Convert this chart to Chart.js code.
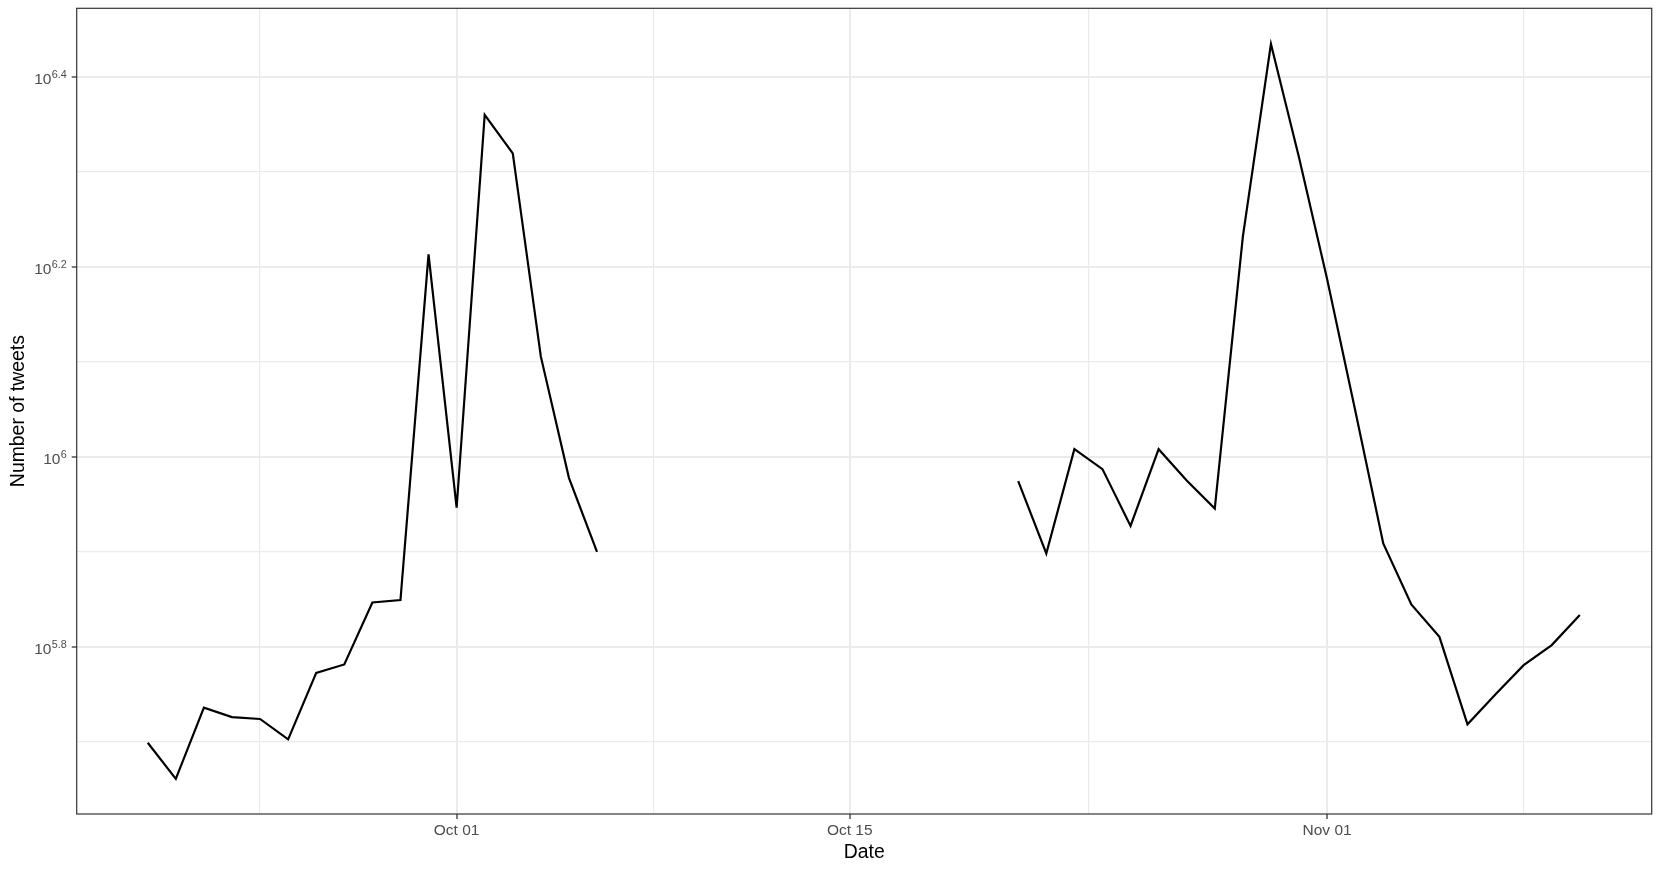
<!DOCTYPE html>
<html>
<head>
<meta charset="utf-8">
<script src="https://cdn.jsdelivr.net/npm/chart.js@4.4.0/dist/chart.umd.min.js"></script>
<style>
html, body { margin: 0; padding: 0; background: #fff; }
#caixa { width: 1661px; height: 873px; position: relative; }
</style>
</head>
<body>
<div id="caixa"><canvas id="graficoTweets"></canvas></div>
<script>
// primeiro trecho (antes da falha de coleta)
const datas1 = ["Sep 20", "Sep 21", "Sep 22", "Sep 23", "Sep 24", "Sep 25", "Sep 26", "Sep 27", "Sep 28",
    "Sep 29", "Sep 30", "Oct 01", "Oct 02", "Oct 03", "Oct 04", "Oct 05", "Oct 06"];
const tweets1 = [500000, 458100, 544500, 532100, 529700, 504100, 592300, 604500, 702500,
    706600, 1633300, 883800, 2289800, 2086300, 1274500, 950200, 794300];

// segundo trecho
const datas2 = ["Oct 21", "Oct 22", "Oct 23", "Oct 24", "Oct 25", "Oct 26", "Oct 27", "Oct 28", "Oct 29",
    "Oct 30", "Oct 31", "Nov 01", "Nov 02", "Nov 03", "Nov 04", "Nov 05", "Nov 06", "Nov 07", "Nov 08",
    "Nov 09", "Nov 10"];
const tweets2 = [942600, 791000, 1018600, 970500, 845700, 1018600, 944100, 881900, 1704900,
    2718900, 2065400, 1538200, 1119400, 810500, 699100, 646300, 522800, 562300, 603500,
    633500, 681300];

// quebras do eixo x (as das pontas so servem para as linhas secundarias)
const quebrasX = ["Sep 17", "Oct 01", "Oct 15", "Nov 01", "Nov 15"];
const expoentesY = [5.8, 6, 6.2, 6.4];
const expoentesYMenores = [5.7, 5.9, 6.1, 6.3];

const inicioMes = { Sep: -30, Oct: 0, Nov: 31 };
function dia(txt) {
    const [mes, d] = txt.split(" ");
    return inicioMes[mes] + Number(d) - 1;
}

const X_MIN = -13.53, X_MAX = 42.56;
const Y_MIN = Math.pow(10, 5.624), Y_MAX = Math.pow(10, 6.472);

const posQuebras = quebrasX.map(dia);
const rotuloPorDia = {};
quebrasX.forEach(q => { rotuloPorDia[dia(q)] = q; });
const menoresX = [];
for (let i = 0; i < posQuebras.length - 1; i++) {
    menoresX.push((posQuebras[i] + posQuebras[i + 1]) / 2);
}
const marcasX = posQuebras.concat(menoresX)
    .filter(v => v >= X_MIN && v <= X_MAX)
    .sort((a, b) => a - b);
const ehMaiorX = v => rotuloPorDia[v] !== undefined;
const ehMaiorY = v => Math.round(Math.log10(v) * 10) % 2 === 0;

const fonte = "'Liberation Sans', Arial, sans-serif";
Chart.defaults.font.family = fonte;

const molduraPlugin = {
    id: "moldura",
    afterDraw(chart) {
        const { ctx, chartArea: a, scales } = chart;
        ctx.save();
        ctx.strokeStyle = "#333333";
        ctx.lineWidth = 1.2;
        ctx.strokeRect(a.left, a.top, a.right - a.left, a.bottom - a.top);

        // rotulos 10^x com expoente
        ctx.fillStyle = "#4D4D4D";
        ctx.textBaseline = "alphabetic";
        ctx.textAlign = "left";
        expoentesY.forEach(e => {
            const py = scales.y.getPixelForValue(Math.pow(10, e));
            const sup = String(e);
            ctx.font = "10.8px " + fonte;
            const wSup = ctx.measureText(sup).width;
            ctx.font = "15.5px " + fonte;
            const wBase = ctx.measureText("10").width;
            const direita = a.left - 10;
            ctx.fillText("10", direita - wSup - wBase - 0.3, py + 7.5);
            ctx.font = "10.8px " + fonte;
            ctx.fillText(sup, direita - wSup, py + 1);
        });
        ctx.restore();
    }
};

const estiloLinha = {
    borderColor: "#000000",
    borderWidth: 2.2,
    pointRadius: 0,
    pointHoverRadius: 0,
    tension: 0,
    fill: false
};

new Chart(document.getElementById("graficoTweets"), {
    type: "line",
    data: {
        datasets: [
            Object.assign({ data: datas1.map((d, i) => ({ x: dia(d), y: tweets1[i] })) }, estiloLinha),
            Object.assign({ data: datas2.map((d, i) => ({ x: dia(d), y: tweets2[i] })) }, estiloLinha)
        ]
    },
    options: {
        responsive: true,
        maintainAspectRatio: false,
        animation: false,
        devicePixelRatio: 1,
        layout: { padding: { top: 8.3, right: 9.3, left: 0, bottom: 0 } },
        plugins: {
            legend: { display: false },
            tooltip: { enabled: false }
        },
        scales: {
            x: {
                type: "linear",
                min: X_MIN,
                max: X_MAX,
                afterBuildTicks(scale) {
                    scale.ticks = marcasX.map(v => ({ value: v }));
                },
                afterFit(scale) {
                    scale.height = 59;
                },
                border: { display: false },
                grid: {
                    color: "#EBEBEB",
                    lineWidth: c => ehMaiorX(c.tick.value) ? 2 : 1.2,
                    drawTicks: true,
                    tickLength: 5,
                    tickWidth: 1.3,
                    tickColor: c => ehMaiorX(c.tick.value) ? "#333333" : "rgba(0,0,0,0)"
                },
                ticks: {
                    autoSkip: false,
                    maxRotation: 0,
                    padding: 2.3,
                    color: "#4D4D4D",
                    font: { size: 15.5 },
                    callback: v => rotuloPorDia[v] || ""
                },
                title: {
                    display: true,
                    text: "Date",
                    color: "#000000",
                    font: { size: 19.4 },
                    padding: { top: 0, bottom: 8.8 }
                }
            },
            y: {
                type: "logarithmic",
                min: Y_MIN,
                max: Y_MAX,
                afterBuildTicks(scale) {
                    scale.ticks = expoentesYMenores.concat(expoentesY)
                        .sort((a, b) => a - b)
                        .map(e => ({ value: Math.pow(10, e) }));
                },
                afterFit(scale) {
                    scale.width = 76.7;
                },
                border: { display: false },
                grid: {
                    color: "#EBEBEB",
                    lineWidth: c => ehMaiorY(c.tick.value) ? 2 : 1.2,
                    drawTicks: true,
                    tickLength: 5,
                    tickWidth: 1.3,
                    tickColor: c => ehMaiorY(c.tick.value) ? "#333333" : "rgba(0,0,0,0)"
                },
                ticks: { display: false },
                title: {
                    display: true,
                    text: "Number of tweets",
                    color: "#000000",
                    font: { size: 19.4 },
                    padding: { top: 6.9, bottom: 0 }
                }
            }
        }
    },
    plugins: [molduraPlugin]
});
</script>
</body>
</html>
